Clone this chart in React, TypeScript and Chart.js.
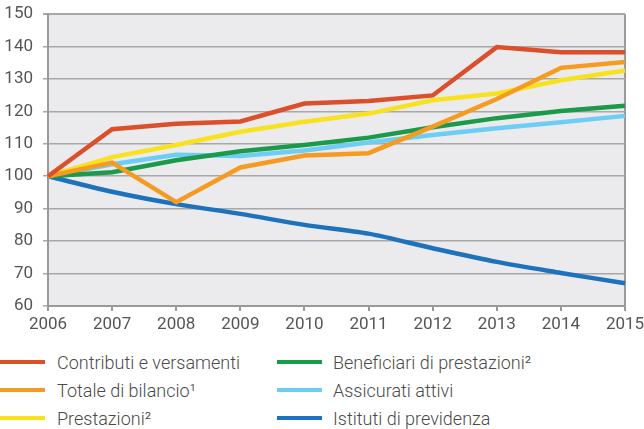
import React, { useEffect, useRef } from "react";
import { Chart, registerables } from "chart.js";

Chart.register(...registerables);

const years = ["2006", "2007", "2008", "2009", "2010", "2011", "2012", "2013", "2014", "2015"];
const contributi = [100, 114.5, 116.2, 116.9, 122.4, 123.2, 124.9, 139.8, 138.2, 138.2];
const totale = [100, 104.2, 92.0, 102.7, 106.4, 107.1, 115.3, 123.8, 133.4, 135.2];
const prestazioni = [100, 105.9, 109.6, 113.7, 116.8, 119.3, 123.4, 125.5, 129.6, 132.6];
const beneficiari = [100, 101.2, 104.9, 107.7, 109.6, 111.9, 115.1, 117.9, 120.1, 121.7];
const assicurati = [100, 103.7, 106.6, 106.2, 107.9, 110.4, 112.7, 114.8, 116.6, 118.6];
const istituti = [100, 95.2, 91.4, 88.4, 85.0, 82.3, 77.8, 73.6, 70.2, 67.0];
const yTicks = [60, 70, 80, 90, 100, 110, 120, 130, 140, 150];

const C_RED = "#db4f2a";
const C_ORANGE = "#f59b22";
const C_YELLOW = "#f8e11f";
const C_GREEN = "#1a9a4a";
const C_LBLUE = "#6dcdf4";
const C_BLUE = "#1e71bb";

const legendItems = [
  { label: "Contributi e versamenti", color: C_RED, col: 0, row: 0 },
  { label: "Totale di bilancio\u00B9", color: C_ORANGE, col: 0, row: 1 },
  { label: "Prestazioni\u00B2", color: C_YELLOW, col: 0, row: 2 },
  { label: "Beneficiari di prestazioni\u00B2", color: C_GREEN, col: 1, row: 0 },
  { label: "Assicurati attivi", color: C_LBLUE, col: 1, row: 1 },
  { label: "Istituti di previdenza", color: C_BLUE, col: 1, row: 2 },
];

const bgPlugin = {
  id: "plotBg",
  beforeDraw(chart: any) {
    const { ctx, chartArea } = chart;
    ctx.save();
    ctx.fillStyle = "#ebebed";
    ctx.fillRect(chartArea.left, chartArea.top, chartArea.right - chartArea.left, chartArea.bottom - chartArea.top);
    ctx.restore();
  },
};

export default function App() {
  const ref = useRef<HTMLCanvasElement | null>(null);
  useEffect(() => {
    if (!ref.current) return;
    const mk = (label: string, data: number[], color: string, order: number, tension = 0) => ({
      label,
      data,
      borderColor: color,
      backgroundColor: color,
      borderWidth: 4.5,
      pointRadius: 0,
      tension,
      order,
      borderJoinStyle: "miter" as const,
    });
    const chart = new Chart(ref.current, {
      type: "line",
      data: {
        labels: years,
        datasets: [
          mk("Istituti di previdenza", istituti, C_BLUE, 6, 0.3),
          mk("Assicurati attivi", assicurati, C_LBLUE, 5),
          mk("Beneficiari di prestazioni", beneficiari, C_GREEN, 4),
          mk("Prestazioni", prestazioni, C_YELLOW, 3),
          mk("Totale di bilancio", totale, C_ORANGE, 2),
          mk("Contributi e versamenti", contributi, C_RED, 1),
        ],
      },
      options: {
        responsive: false,
        animation: false,
        layout: { padding: { left: 0, right: 19, top: 14, bottom: 0 } },
        plugins: { legend: { display: false }, tooltip: { enabled: false } },
        scales: {
          x: {
            type: "category",
            offset: false,
            grid: {
              color: (c: any) => (c.index === years.length - 1 ? "#9a9a9a" : "rgba(0,0,0,0)"),
              lineWidth: 2,
              tickColor: "#9a9a9a",
              tickLength: 5,
              drawTicks: true,
            },
            border: { color: "#9a9a9a", width: 2 },
            ticks: {
              color: "#555555",
              font: { family: "Roboto", size: 17, weight: 400 },
              padding: 4,
              maxRotation: 0,
              autoSkip: false,
            },
            afterFit: (s: any) => {
              s.height = 39;
              s.paddingLeft = 0;
              s.paddingRight = 0;
            },
          },
          y: {
            min: 60,
            max: 150,
            afterBuildTicks: (s: any) => {
              s.ticks = yTicks.map((v) => ({ value: v }));
            },
            grid: {
              color: (c: any) => (c.tick && c.tick.value === 60 ? "rgba(0,0,0,0)" : "#a8a8a8"),
              lineWidth: (c: any) => (c.tick && c.tick.value === 150 ? 2 : 1.5),
              tickLength: 5,
              tickColor: "#a8a8a8",
            },
            border: { color: "#9a9a9a", width: 2 },
            ticks: {
              color: "#555555",
              font: { family: "Roboto", size: 17, weight: 400 },
              padding: 10,
            },
            afterFit: (s: any) => {
              s.width = 48;
              s.paddingTop = 0;
              s.paddingBottom = 0;
            },
          },
        },
      },
      plugins: [bgPlugin],
    });
    return () => chart.destroy();
  }, []);

  return (
    <div style={{ position: "absolute", left: 0, top: 0, width: 644, height: 429, background: "#fff", fontFamily: "Roboto" }}>
      <canvas ref={ref} width={644} height={345} style={{ display: "block" }} />
      {legendItems.map((it) => (
        <div
          key={it.label}
          style={{
            position: "absolute",
            left: it.col === 0 ? 0 : 277,
            top: 362 + it.row * 28 - 13,
            height: 26,
            display: "flex",
            alignItems: "center",
            whiteSpace: "nowrap",
          }}
        >
          <div style={{ width: 45, height: 4, background: it.color }} />
          <span
            style={{
              marginLeft: it.col === 0 ? 12 : 11,
              fontSize: 18,
              color: "#4a4a4a",
              fontWeight: 300,
            }}
          >
            {it.label}
          </span>
        </div>
      ))}
    </div>
  );
}
